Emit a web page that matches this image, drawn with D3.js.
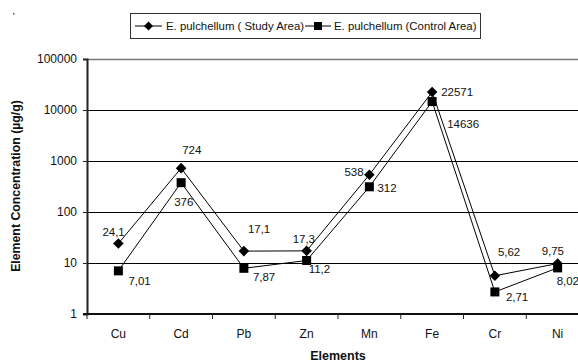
<!DOCTYPE html>
<html>
<head>
<meta charset="utf-8">
<script src="https://cdn.jsdelivr.net/npm/d3@7"></script>
<style>
  html, body { margin: 0; padding: 0; background: #fff; }
  svg { display: block; font-family: "Liberation Sans", Arial, sans-serif; }
</style>
</head>
<body>
<svg id="chart" width="578" height="362"></svg>
<script>
// Element concentrations (µg/g) in E. pulchellum
const elements = ["Cu", "Cd", "Pb", "Zn", "Mn", "Fe", "Cr", "Ni"];
const studyArea = [24.1, 724, 17.1, 17.3, 538, 22571, 5.62, 9.75];
const controlArea = [7.01, 376, 7.87, 11.2, 312, 14636, 2.71, 8.02];
const studyLabels = ["24,1", "724", "17,1", "17,3", "538", "22571", "5,62", "9,75"];
const controlLabels = ["7,01", "376", "7,87", "11,2", "312", "14636", "2,71", "8,02"];
const yTicks = [1, 10, 100, 1000, 10000, 100000];

// label offsets relative to each point (dx, dy), text anchored at start
const studyOffsets = [[-16, -12], [1, -18], [4, -22], [-14, -12], [-25, -3], [9, 0], [3, -24], [-16, -13]];
const controlOffsets = [[10, 10], [-7, 19], [9, 9], [2, 9], [8, 1], [15, 22], [11, 5], [-1, 13]];

const svg = d3.select("#chart");
const plotLeft = 87, plotTop = 59, plotBottom = 314;
const bandW = 62.75;
const plotRight = plotLeft + bandW * elements.length;

const x = d3.scaleBand().domain(elements).range([plotLeft, plotRight]).paddingInner(0).paddingOuter(0);
const y = d3.scaleLog().domain([1, 100000]).range([plotBottom, plotTop]);
const cx = d => x(d) + x.bandwidth() / 2;

// plot frame top edge
svg.append("line").attr("x1", plotLeft).attr("x2", plotRight).attr("y1", plotTop + 0.5).attr("y2", plotTop + 0.5)
  .attr("stroke", "#777").attr("stroke-width", 1.5);

// horizontal gridlines at each decade
svg.append("g").selectAll("line").data(yTicks.slice(1, -1)).join("line")
  .attr("x1", plotLeft).attr("x2", plotRight)
  .attr("y1", d => Math.round(y(d)) + 0.5).attr("y2", d => Math.round(y(d)) + 0.5)
  .attr("stroke", "#000").attr("stroke-width", 1);

// y axis
const yAxis = d3.axisLeft(y).tickValues(yTicks).tickFormat(d3.format("d")).tickSize(4).tickPadding(6);
const gy = svg.append("g").attr("transform", `translate(${plotLeft},0)`).call(yAxis);
gy.select(".domain").attr("stroke", "#222").attr("stroke-width", 2);
gy.selectAll(".tick line").attr("stroke", "#222");
gy.selectAll("text").attr("font-size", 12).attr("fill", "#111");

// x axis with ticks on category boundaries
const gx = svg.append("g").attr("transform", `translate(0,${plotBottom})`);
gx.append("line").attr("x1", plotLeft - 4).attr("x2", plotRight).attr("y1", 0).attr("y2", 0)
  .attr("stroke", "#111").attr("stroke-width", 2);
gx.selectAll(".btick").data(elements).join("line").attr("class", "btick")
  .attr("x1", d => x(d)).attr("x2", d => x(d)).attr("y1", 0).attr("y2", 5)
  .attr("stroke", "#222");
gx.selectAll(".xlab").data(elements).join("text").attr("class", "xlab")
  .attr("x", d => cx(d)).attr("y", 24).attr("text-anchor", "middle")
  .attr("font-size", 12).attr("fill", "#111").text(d => d);

// series lines
const line = d3.line().x((d, i) => cx(elements[i])).y(d => y(d));
svg.append("path").datum(controlArea).attr("d", line).attr("fill", "none").attr("stroke", "#000").attr("stroke-width", 1);
svg.append("path").datum(studyArea).attr("d", line).attr("fill", "none").attr("stroke", "#000").attr("stroke-width", 1);

// markers
svg.append("g").selectAll("path").data(studyArea).join("path")
  .attr("d", d3.symbol().type(d3.symbolSquare).size(56)())
  .attr("transform", (d, i) => `translate(${cx(elements[i])},${y(d)}) rotate(45)`)
  .attr("fill", "#000");
svg.append("g").selectAll("rect").data(controlArea).join("rect")
  .attr("x", (d, i) => cx(elements[i]) - 4.5).attr("y", d => y(d) - 4.5)
  .attr("width", 9).attr("height", 9).attr("fill", "#000");

// value labels
svg.append("g").selectAll("text").data(studyArea).join("text")
  .attr("x", (d, i) => cx(elements[i]) + studyOffsets[i][0])
  .attr("y", (d, i) => y(d) + studyOffsets[i][1] + 4)
  .attr("font-size", 11.5).attr("fill", "#111").text((d, i) => studyLabels[i]);
svg.append("g").selectAll("text").data(controlArea).join("text")
  .attr("x", (d, i) => cx(elements[i]) + controlOffsets[i][0])
  .attr("y", (d, i) => y(d) + controlOffsets[i][1] + 4)
  .attr("font-size", 11.5).attr("fill", "#111").text((d, i) => controlLabels[i]);

// axis titles
svg.append("text").attr("transform", "translate(20,186) rotate(-90)")
  .attr("text-anchor", "middle").attr("font-size", 12.3).attr("font-weight", "bold")
  .attr("fill", "#111").text("Element Concentration (µg/g)");
svg.append("text").attr("x", 338).attr("y", 360).attr("text-anchor", "middle")
  .attr("font-size", 12.5).attr("font-weight", "bold").attr("fill", "#111").text("Elements");

// legend
const lg = svg.append("g");
lg.append("rect").attr("x", 130.5).attr("y", 13.5).attr("width", 350).attr("height", 25)
  .attr("fill", "#fff").attr("stroke", "#333");
lg.append("line").attr("x1", 135).attr("x2", 162).attr("y1", 26).attr("y2", 26).attr("stroke", "#000");
lg.append("path").attr("d", d3.symbol().type(d3.symbolSquare).size(40)())
  .attr("transform", "translate(148.5,26) rotate(45)").attr("fill", "#000");
lg.append("text").attr("x", 166).attr("y", 30).attr("font-size", 11.4).attr("fill", "#111")
  .text("E. pulchellum ( Study Area)");
lg.append("line").attr("x1", 305).attr("x2", 331).attr("y1", 26).attr("y2", 26).attr("stroke", "#000");
lg.append("rect").attr("x", 314).attr("y", 22).attr("width", 8).attr("height", 8).attr("fill", "#000");
lg.append("text").attr("x", 334).attr("y", 30).attr("font-size", 11.4).attr("fill", "#111")
  .text("E. pulchellum (Control Area)");

// small mark in the corner
svg.append("rect").attr("x", 13).attr("y", 13).attr("width", 1.5).attr("height", 1.5).attr("fill", "#555");
</script>
</body>
</html>
